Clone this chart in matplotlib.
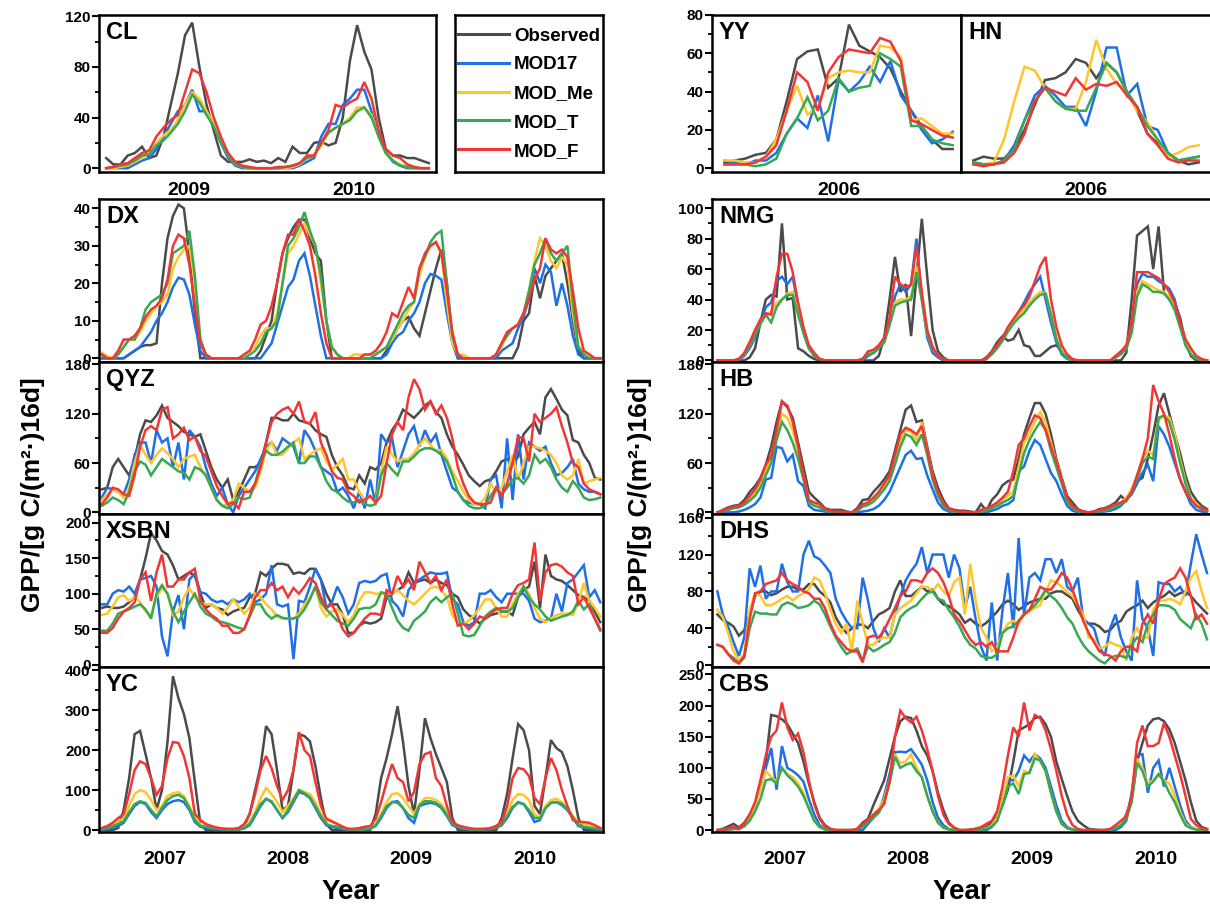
import numpy as np
import matplotlib.pyplot as plt
from matplotlib.lines import Line2D

plt.rcParams['font.family'] = ['Liberation Sans', 'DejaVu Sans']
plt.rcParams['font.weight'] = 'bold'

W, H = 1210, 909

names = ['Observed', 'MOD17', 'MOD_Me', 'MOD_T', 'MOD_F']
colors = ['#4b4b4b', '#1f6fe6', '#ffc629', '#37a853', '#f23636']

# ---------------- CL (2009-2010) ----------------
cl_obs = [8,3,3,10,12,17,8,10,25,50,75,105,115,80,50,30,10,5,5,5,7,5,6] + \
         [4,8,5,17,12,12,20,21,18,20,40,85,113,92,78,40,15,10,10,8,8,6,4]
cl_mod17 = [0,0,0,0,3,6,8,15,25,35,45,50,62,45,45,35,20,8,2,0,0,0,0] + \
           [0,0,0,0,2,5,8,25,35,35,50,55,62,62,45,25,12,5,2,0,0,0,0]
cl_me = [0,0,1,2,5,8,12,20,26,30,38,50,60,55,45,35,22,10,3,1,0,0,0] + \
        [0,0,0,1,3,8,10,18,28,32,35,40,48,48,42,25,12,6,3,1,0,0,0]
cl_t = [0,1,2,3,6,10,11,18,22,28,35,45,58,52,42,33,20,10,3,1,0,0,0] + \
       [0,0,1,2,4,8,10,20,28,32,35,38,45,48,40,25,12,6,2,1,0,0,0]
cl_f = [0,1,3,4,8,12,14,25,32,38,42,60,78,75,60,40,25,12,5,2,1,0,0] + \
       [0,1,1,2,4,10,10,20,30,50,48,52,55,68,55,30,15,10,8,3,1,0,0]

# ---------------- YY / HN (2006) ----------------
yy_obs = [3,4,5,7,8,15,35,57,61,62,42,47,75,64,61,58,52,40,30,22,15,10,10]
yy_mod17 = [4,3,2,4,4,8,18,26,21,38,14,46,40,45,53,45,56,38,30,20,13,15,19]
yy_me = [4,4,3,3,6,15,30,43,28,32,47,50,51,50,50,64,63,58,25,26,22,18,18]
yy_t = [2,2,2,1,2,5,18,26,37,25,30,47,40,42,43,60,57,53,22,22,15,13,12]
yy_f = [2,2,2,3,6,12,30,50,45,30,50,58,62,61,60,68,66,56,25,23,20,17,16]

hn_obs = [4,6,5,5,10,20,33,46,47,50,57,55,47,55,50,40,30,18,13,8,4,2,3]
hn_mod17 = [3,2,2,4,12,25,38,43,38,32,32,22,40,63,63,38,44,22,20,8,4,5,6]
hn_me = [2,2,3,15,35,53,51,42,35,31,31,45,67,52,44,40,30,24,15,6,8,11,12]
hn_t = [3,2,2,4,10,25,35,42,35,31,30,30,42,55,50,40,32,22,15,8,4,5,6]
hn_f = [2,1,2,3,8,18,35,42,40,38,47,41,44,43,45,38,32,18,12,5,3,4,4]

# ---------------- DX (2007-2010) ----------------
dx_obs = [0,0,0,0,0,1,2,3,3.5,3.5,4,20,32,38,41,40,28,12,0,0,0,0,0] + \
         [0,0,0,0,0,0,2,6,10,20,28,32,35,37,37,32,28,26,10,0,0,0,0] + \
         [0,0,0,0,0,0,2,5,8,10,11,8,6,12,18,24,29,20,5,0,0,0,0] + \
         [0,0,0,0,0,0,0,3,10,12,22,16,22,24,26,28,20,10,2,0,0,0,0]
dx_mod17 = [0,0,0,0,0,1,2,3,5,7,10,12,15,19,21.5,21,17,9,2,0,0,0,0] + \
           [0,0,0,0,0,0,0,2,4,9,14,19,21,26,28,22,14,6,0,0,0,0,0] + \
           [0,0,0,0,0,0,1,4,6,7,10,12,15,20,22.5,22,21,12,4,0,0,0,0] + \
           [0,0,0,0,2,3,4,8,11,16,24,20,25,23,14,20,14,6,1,0,0,0,0]
dx_me = [1.5,0.5,0,1,3,5,5,7,10,12,14,15,17,24,27,29,30,20,5,1,0,0,0] + \
        [0,0,0,1,2,3,6,8,8,12,20,28,30,33,36,33,30,20,10,3,1,0,0] + \
        [1,1,1,1,1,2,3,5,8,10,13,15,22,27,30,31,28,15,4,1,1,0,0] + \
        [0,0,0,1,3,6,8,9,12,18,26,32,30,26,24,27,25,12,3,2,1,0,0]
dx_t = [1,0,0,1,3,5,5,8,13,15,16,17,20,28,29,30,34,22,5,1,0,0,0] + \
       [0,0,0,0,1,2,4,7,8,10,20,30,32,35,39,34,30,22,10,3,1,0,0] + \
       [0,0,0,0,1,2,3,6,9,12,14,15,24,27,31,33,34,20,6,1,0,0,0] + \
       [0,0,0,1,4,6,8,9,12,18,25,28,32,28,26,28,30,15,3,1,0,0,0]
dx_f = [1,0,0,2,5,5,6,8,11,13,14,16,21,30,33,32,25,14,4,1,0,0,0] + \
       [0,0,0,1,2,5,9,10,14,20,28,33,33,37,34,30,22,12,4,0,0,0,0] + \
       [0,0,1,1,2,4,7,12,11,15,19,16,24,28,30,31,28,18,7,1,0,0,0] + \
       [0,0,0,1,4,7,8,9,12,16,21,24,32,29,28,29,27,18,8,2,1,0,0]

# ---------------- QYZ ----------------
qyz_obs = [28,30,55,65,55,45,65,95,112,110,118,130,115,110,105,98,95,92,95,75,55,40,30] + \
          [40,15,25,40,55,55,60,85,115,115,112,112,120,112,110,108,100,95,92,70,55,45,30] + \
          [28,45,35,55,52,60,85,100,110,125,120,115,122,130,135,122,115,95,80,70,58,45,38] + \
          [32,38,40,50,62,65,58,68,95,103,110,95,140,150,138,125,118,88,85,70,60,42,40]
qyz_mod17 = [18,30,28,25,22,40,70,85,85,60,100,85,90,55,85,40,100,92,80,55,35,20,30] + \
            [10,0,20,30,40,50,65,80,85,75,90,85,80,60,100,90,75,55,50,45,25,30,20] + \
            [5,25,5,40,10,95,85,90,55,75,95,105,80,100,85,95,70,50,30,25,15,12,10] + \
            [10,5,40,45,5,90,15,95,40,85,80,75,80,60,45,48,55,65,35,28,25,25,22]
qyz_me = [15,22,28,25,18,30,60,82,70,60,70,78,72,65,55,65,68,70,55,45,30,15,8] + \
         [10,15,35,30,25,30,50,75,85,70,70,78,85,90,65,70,75,78,62,52,58,65,40] + \
         [40,25,15,20,12,50,80,70,62,65,65,72,82,90,82,75,76,65,50,38,25,15,10] + \
         [10,18,35,25,30,50,70,40,60,80,80,78,75,70,60,45,40,45,65,35,38,40,42]
qyz_t = [8,12,18,15,10,25,50,62,58,45,55,65,60,55,50,48,40,55,52,45,30,15,8] + \
        [5,10,18,16,18,35,60,75,70,70,74,80,85,60,60,68,68,55,38,28,25,18,13] + \
        [12,15,10,8,10,45,60,52,45,62,62,68,75,78,78,75,70,62,45,25,15,8,5] + \
        [5,8,20,30,22,30,40,42,35,45,70,60,65,55,40,30,25,38,30,18,15,16,18]
qyz_f = [10,18,30,28,22,20,45,80,100,105,100,125,128,90,95,103,88,92,75,68,50,32,20] + \
        [10,12,5,25,25,35,55,85,110,120,125,128,120,135,110,108,122,85,70,50,42,40,25] + \
        [20,12,15,20,12,20,60,95,110,100,140,162,150,125,135,120,130,115,90,55,35,20,12] + \
        [10,10,12,30,20,35,60,92,90,62,120,110,115,120,128,105,85,60,55,35,28,25,22]

# ---------------- XSBN ----------------
xsbn_obs = [80,82,80,80,82,88,95,120,150,185,175,160,155,140,120,125,130,125,100,80,85,80,78] + \
           [70,75,78,80,95,100,130,125,135,142,142,140,128,130,128,135,135,120,100,85,85,70,45] + \
           [45,55,60,58,60,65,95,100,105,110,130,115,118,120,115,120,115,112,100,95,78,70,65] + \
           [58,65,70,72,75,75,70,95,105,110,145,80,155,125,120,118,112,105,98,95,90,75,60]
xsbn_mod17 = [85,85,100,105,103,110,100,120,122,125,110,40,12,75,98,50,120,128,102,100,92,88,90] + \
             [85,92,88,92,100,88,92,100,140,85,82,85,8,90,88,110,135,120,80,88,110,95,72] + \
             [85,115,118,116,118,125,128,90,82,68,105,115,120,125,130,128,128,130,92,85,60,55,60] + \
             [100,100,105,95,88,100,100,100,100,90,65,60,62,65,100,75,115,120,130,140,95,105,88]
xsbn_me = [70,72,82,95,98,90,95,88,75,70,95,108,100,70,75,95,108,95,88,85,85,80,72] + \
          [80,92,82,72,80,100,95,85,78,68,65,65,65,72,85,95,110,80,68,75,78,70,60] + \
          [70,90,102,102,100,100,100,100,105,98,90,85,92,100,108,110,105,95,70,58,58,62,70] + \
          [80,92,92,80,68,68,85,100,110,100,80,65,60,65,70,72,72,70,88,115,90,80,68]
xsbn_t = [48,48,58,72,75,78,82,85,78,65,100,112,100,75,60,75,88,100,82,72,68,62,60] + \
         [58,55,52,50,68,85,85,72,65,70,66,65,65,68,78,92,110,88,78,70,62,58,55] + \
         [65,78,80,80,85,102,100,80,62,52,48,62,68,75,88,95,88,95,100,72,42,40,42] + \
         [55,68,75,80,76,75,80,95,110,95,85,78,68,62,65,68,70,75,90,78,85,65,48]
xsbn_f = [45,45,52,65,75,80,88,120,130,90,130,155,110,110,120,120,130,135,90,78,70,65,55] + \
         [55,45,45,50,70,95,105,105,115,105,110,95,108,100,110,122,115,95,80,85,70,50,40] + \
         [45,55,65,72,72,70,105,100,125,110,120,105,145,130,115,125,105,120,85,55,58,50,58] + \
         [68,65,72,78,80,80,100,112,115,120,172,90,130,140,142,138,130,125,85,95,80,65,50]

# ---------------- YC ----------------
yc_obs = [0,0,0,5,50,130,240,248,190,130,50,100,220,385,330,290,230,120,15,0,0,0,0] + \
         [0,0,0,10,40,100,160,260,240,150,50,60,150,240,235,222,160,80,15,0,0,0,0] + \
         [0,0,0,0,40,130,180,240,310,220,110,40,150,280,230,190,155,120,30,0,0,0,0] + \
         [0,0,0,0,30,90,180,265,250,200,60,40,130,225,205,195,160,100,30,0,0,0,0]
yc_mod17 = [0,2,5,10,18,40,60,70,65,45,30,50,65,72,75,70,50,20,8,5,3,2,1] + \
           [0,0,1,4,12,35,60,78,70,50,30,45,70,95,90,80,55,30,12,8,5,2,0] + \
           [0,0,1,3,10,30,55,70,72,55,30,18,60,65,68,65,55,35,12,6,3,1,0] + \
           [0,1,2,5,12,30,55,70,65,45,20,25,55,68,70,62,50,30,10,6,4,2,1]
yc_me = [3,8,15,20,30,60,90,100,95,75,50,60,85,92,95,85,60,30,15,10,8,5,3] + \
        [2,2,3,8,20,45,80,105,90,70,45,60,80,100,95,90,70,40,25,20,15,8,3] + \
        [2,2,3,5,15,40,70,90,92,80,60,40,65,80,80,75,65,45,20,10,5,3,2] + \
        [2,3,5,10,20,40,75,90,88,75,40,30,60,75,78,70,55,35,20,15,12,8,5]
yc_t = [2,5,10,15,22,45,65,72,68,50,35,55,75,85,88,80,55,25,10,8,5,3,2] + \
       [1,1,2,6,15,40,65,78,72,50,30,50,75,100,92,82,60,35,15,10,8,4,1] + \
       [1,1,2,4,12,35,60,70,68,55,38,30,62,72,72,68,58,38,15,8,4,2,1] + \
       [1,2,3,6,14,35,58,68,65,50,30,30,55,68,70,65,52,32,12,8,6,4,2]
yc_f = [5,10,18,30,40,90,150,172,165,130,88,110,180,220,218,185,130,40,25,15,10,6,4] + \
       [3,3,5,15,40,90,150,185,155,110,75,100,150,245,200,185,120,60,28,22,15,8,3] + \
       [3,5,8,10,28,70,120,165,130,120,72,95,165,190,195,130,110,60,20,12,8,5,3] + \
       [3,3,5,10,20,60,130,155,152,135,80,65,130,180,150,100,60,25,20,20,18,12,5]

# ---------------- NMG ----------------
nmg_obs = [0,0,0,0,0,0,2,8,25,40,43,42,90,40,41,8,6,3,1,0,0,0,0] + \
          [0,0,0,0,0,0,0,3,15,40,68,45,50,16,55,93,55,20,6,2,0,0,0] + \
          [0,0,0,0,2,6,12,16,13,14,20,10,9,3,3,6,9,10,6,2,0,0,0] + \
          [0,0,0,0,0,0,0,5,40,82,85,88,60,88,45,40,38,28,12,3,0,0,0]
nmg_mod17 = [0,0,0,0,0,3,8,15,25,35,38,52,55,50,55,35,18,8,3,1,0,0,0] + \
            [0,0,0,0,0,3,5,8,12,25,42,50,45,50,80,40,15,5,2,0,0,0,0] + \
            [0,0,0,0,1,5,9,14,20,26,32,38,45,50,55,40,25,12,4,1,0,0,0] + \
            [0,0,0,0,0,2,5,8,20,50,57,55,55,52,50,47,40,25,12,5,2,0,0]
nmg_me = [0,0,0,0,1,4,10,17,25,30,32,38,40,44,45,32,18,8,3,1,0,0,0] + \
         [0,0,0,0,1,5,6,9,13,25,38,40,40,42,62,40,18,8,3,1,0,0,0] + \
         [0,0,0,0,1,5,9,14,20,25,30,33,38,42,45,44,30,15,6,2,0,0,0] + \
         [0,0,0,0,0,2,5,8,20,45,52,50,48,46,45,42,35,22,12,5,2,0,0]
nmg_t = [0,0,0,0,1,4,10,17,24,30,25,35,40,43,43,30,18,8,3,1,0,0,0] + \
        [0,0,0,0,1,4,5,8,12,23,36,38,39,40,58,40,18,8,3,1,0,0,0] + \
        [0,0,0,0,1,4,8,13,19,24,28,31,36,40,43,44,30,14,5,2,0,0,0] + \
        [0,0,0,0,0,2,4,8,18,42,50,48,45,45,44,40,33,22,10,4,1,0,0]
nmg_f = [0,0,0,0,1,5,12,20,27,31,30,55,70,70,58,38,22,10,5,1,0,0,0] + \
        [0,0,0,0,1,6,7,10,15,28,55,50,48,50,75,45,20,9,3,1,0,0,0] + \
        [0,0,0,0,1,6,10,15,22,27,32,36,42,52,62,68,40,22,10,4,1,0,0] + \
        [0,0,0,0,0,3,6,10,25,58,58,58,56,54,50,45,38,25,14,8,3,1,0]

# ---------------- HB ----------------
hb_obs = [0,3,6,8,9,15,25,32,42,58,80,110,135,128,115,85,55,25,18,12,5,3,3] + \
         [3,1,0,5,15,16,25,32,40,50,75,100,125,130,110,112,80,50,30,15,5,3,2] + \
         [2,1,0,10,2,15,22,33,38,40,65,95,115,133,133,120,95,65,42,20,12,4,1] + \
         [0,1,4,5,8,12,20,14,28,38,42,65,95,130,145,120,95,72,45,25,15,8,4]
hb_mod17 = [0,0,0,0,1,3,6,10,18,40,42,80,78,62,70,38,32,8,3,2,1,0,0] + \
           [0,0,0,0,1,2,4,8,15,25,40,55,70,75,65,66,45,28,12,4,1,0,0] + \
           [0,0,0,0,0,2,4,8,10,15,50,56,75,88,82,65,48,38,22,8,2,0,0] + \
           [0,0,0,1,2,4,8,15,22,35,48,58,38,105,95,80,60,40,25,10,3,1,0]
hb_me = [0,2,4,6,7,10,16,24,35,50,70,95,120,115,100,75,45,15,10,8,3,1,0] + \
        [0,0,0,2,8,10,15,22,30,40,62,88,100,98,88,110,75,45,22,10,3,1,0] + \
        [0,0,0,1,3,6,10,15,20,25,55,85,95,110,122,110,85,62,40,15,6,2,0] + \
        [0,0,2,3,5,8,12,18,28,45,65,75,70,112,118,115,95,65,38,18,10,5,2]
hb_t = [0,1,3,5,6,9,14,20,30,45,60,88,110,100,85,65,40,12,8,6,2,1,0] + \
       [0,0,0,2,7,9,13,20,28,38,58,80,95,92,82,95,70,40,20,8,2,1,0] + \
       [0,0,0,1,2,5,8,12,15,20,45,72,88,100,110,100,75,55,35,12,5,1,0] + \
       [0,0,1,2,4,7,10,15,25,40,60,68,65,115,118,110,88,60,35,16,8,4,1]
hb_f = [0,2,5,7,8,12,20,28,40,58,68,100,135,130,110,80,45,15,12,10,4,2,1] + \
       [1,0,0,3,10,12,18,25,35,45,70,95,103,100,95,105,75,45,25,12,4,2,1] + \
       [1,0,0,3,5,8,12,18,25,50,82,90,105,118,115,100,80,62,40,18,8,3,1] + \
       [0,1,3,4,7,10,12,15,25,45,65,90,155,135,120,95,65,40,25,15,8,5,2]

# ---------------- DHS ----------------
dhs_obs = [55,49,46,42,32,38,55,75,80,80,76,78,82,85,85,82,82,88,88,80,75,68,52] + \
          [42,35,40,44,44,40,48,55,58,62,80,92,75,75,80,85,80,82,72,66,64,60,55] + \
          [46,50,45,42,46,52,58,66,70,66,60,64,68,70,72,72,78,80,80,76,72,60,50] + \
          [45,45,42,36,38,45,48,58,62,65,70,62,68,72,75,80,75,78,80,75,68,62,56]
dhs_mod17 = [80,55,42,25,10,30,105,85,108,72,80,80,110,90,80,80,120,135,118,115,108,100,72] + \
            [58,48,40,40,95,70,40,25,40,30,55,75,92,102,110,128,100,120,120,120,95,120,105] + \
            [62,85,50,20,5,68,5,60,100,40,138,55,95,100,92,115,115,100,115,85,80,95,50] + \
            [45,40,20,10,40,55,30,15,5,92,50,40,10,90,88,88,80,85,75,110,142,120,100]
dhs_me = [60,52,35,15,5,12,60,78,75,65,65,68,72,75,70,75,78,82,95,92,78,60,45] + \
         [35,45,15,70,45,22,22,28,30,30,55,62,66,70,78,85,85,80,88,80,75,90,95] + \
         [55,110,70,40,30,15,20,35,45,48,45,55,58,62,65,80,92,90,85,80,75,65,55] + \
         [30,28,18,20,25,22,20,5,30,40,30,30,60,70,70,72,70,66,80,95,102,80,62]
dhs_t = [22,20,12,8,2,8,40,58,56,56,55,55,65,68,66,62,63,65,70,66,55,42,30] + \
        [20,12,15,18,5,20,15,18,22,25,35,52,58,62,65,72,78,80,72,70,60,52,42] + \
        [30,22,18,10,8,8,12,35,40,42,48,55,60,65,72,82,75,70,62,52,45,32,22] + \
        [15,10,5,2,8,10,10,8,22,30,25,45,55,65,65,64,60,50,45,40,55,45,28]
dhs_f = [22,20,12,5,2,10,50,78,80,88,90,92,100,92,88,85,80,78,72,72,62,45,32] + \
        [25,18,15,15,3,30,32,30,38,50,62,75,80,92,92,90,100,105,100,90,75,55,48] + \
        [38,28,22,25,20,25,15,15,15,30,48,55,60,72,85,82,82,90,100,95,82,65,48] + \
        [35,25,15,12,10,5,15,20,20,15,45,55,45,70,88,92,95,105,95,75,50,55,45]

# ---------------- CBS ----------------
cbs_obs = [0,2,6,10,4,12,25,40,75,110,185,183,178,170,155,140,110,75,45,20,8,2,0] + \
          [0,0,0,2,12,18,40,60,80,115,150,175,182,180,160,135,120,95,60,32,12,4,0] + \
          [0,1,2,3,5,12,25,40,65,110,160,165,170,180,182,170,150,110,82,55,30,15,8] + \
          [2,1,0,0,0,1,8,25,50,110,140,168,178,180,175,162,140,110,80,45,15,5,2]
cbs_mod17 = [0,0,0,2,2,8,20,40,70,100,132,65,135,100,95,88,78,50,25,8,2,0,0] + \
            [0,0,0,0,0,10,20,30,55,90,125,126,125,130,118,105,80,45,20,8,2,0,0] + \
            [0,0,0,0,0,5,15,50,80,80,95,120,110,122,115,100,70,40,15,5,1,0,0] + \
            [0,0,0,0,0,0,5,15,60,120,122,60,100,112,70,100,70,40,15,5,1,0,0]
cbs_me = [0,0,1,3,2,8,20,40,65,95,85,78,100,90,85,75,60,35,15,5,1,0,0] + \
         [0,0,0,1,8,15,25,35,50,80,122,108,110,122,100,85,55,30,12,4,1,0,0] + \
         [0,0,0,1,3,8,20,50,85,88,70,95,92,122,110,95,60,30,10,3,1,0,0] + \
         [0,0,0,0,1,4,10,20,50,115,100,75,80,90,80,75,55,30,10,4,1,0,0]
cbs_t = [0,0,1,2,2,6,15,30,50,80,82,75,100,88,80,70,55,35,15,5,1,0,0] + \
        [0,0,0,1,6,12,20,28,45,75,118,100,105,108,95,85,55,30,12,4,1,0,0] + \
        [0,0,0,1,2,6,15,40,70,75,58,90,92,115,112,95,60,30,10,3,1,0,0] + \
        [0,0,0,0,1,3,8,18,45,108,95,70,78,90,78,60,45,25,8,3,1,0,0]
cbs_f = [0,0,3,5,2,10,25,45,80,120,150,160,205,165,145,155,125,80,42,18,6,2,0] + \
        [0,0,0,2,10,15,25,32,42,80,150,192,180,173,182,160,130,95,55,25,10,4,0] + \
        [0,0,2,5,10,15,30,70,120,165,150,205,160,185,180,160,130,95,55,25,8,2,0] + \
        [0,0,0,0,2,8,15,22,55,140,168,135,135,140,172,150,120,90,55,18,8,3,1]

years4 = ['2007', '2008', '2009', '2010']


def add_box(l, t, r, b):
    return fig.add_axes([l / W, 1 - b / H, (r - l) / W, (b - t) / H])


def panel(ax, series, label, ylim, major, minor, xlim, ylabels=True):
    for y, c in zip(series, colors):
        ax.plot(np.arange(len(y)), y, color=c, lw=1.8, solid_joinstyle='miter')
    ax.set_xlim(*xlim)
    ax.set_ylim(*ylim)
    if ylabels:
        ax.set_yticks(major)
        ax.set_yticks(minor, minor=True)
        ax.tick_params(axis='y', which='major', direction='out', length=5,
                       width=1.5, labelsize=11, pad=1)
        ax.tick_params(axis='y', which='minor', direction='out', length=3, width=1.3)
    else:
        ax.set_yticks([])
    ax.set_xticks([])
    for s in ax.spines.values():
        s.set_linewidth(1.8)
    ax.annotate(label, xy=(0, 1), xycoords='axes fraction', xytext=(5, -4),
                textcoords='offset points', ha='left', va='top',
                fontsize=17, fontweight='bold')


def year_ticks(ax, labels, pos, pad=9):
    ax.set_xticks(pos)
    ax.set_xticklabels(labels, fontsize=14, fontweight='bold')
    ax.tick_params(axis='x', length=0, pad=pad)


fig = plt.figure(figsize=(W / 100, H / 100), dpi=100)

# left column
lx0, lx1 = 99, 603
ax = add_box(lx0, 15, 436, 172)
panel(ax, [cl_obs, cl_mod17, cl_me, cl_t, cl_f], 'CL', (-3, 121),
      [0, 40, 80, 120], [20, 60, 100], (-1, 46))
year_ticks(ax, ['2009', '2010'], [11.5, 34.5], pad=7)

leg = add_box(455, 15, 603, 172)
leg.set_xticks([])
leg.set_yticks([])
for s in leg.spines.values():
    s.set_linewidth(1.8)
handles = [Line2D([], [], color=c, lw=2.2) for c in colors]
leg.legend(handles, names, loc='center', frameon=False, handlelength=2.7,
           labelspacing=0.62, handletextpad=0.3, borderaxespad=0.0,
           prop={'weight': 'bold', 'size': 13.5})

xl4 = (-0.5, 91.5)
left_rows = [
    ([dx_obs, dx_mod17, dx_me, dx_t, dx_f], 'DX', (-1, 42.5), [0, 10, 20, 30, 40], [5, 15, 25, 35]),
    ([qyz_obs, qyz_mod17, qyz_me, qyz_t, qyz_f], 'QYZ', (-2, 183), [0, 60, 120, 180], [30, 90, 150]),
    ([xsbn_obs, xsbn_mod17, xsbn_me, xsbn_t, xsbn_f], 'XSBN', (-3, 212), [0, 50, 100, 150, 200], [25, 75, 125, 175]),
    ([yc_obs, yc_mod17, yc_me, yc_t, yc_f], 'YC', (-5, 408), [0, 100, 200, 300, 400], [50, 150, 250, 350]),
]
edges = [199, 362, 514, 667, 832]
for i, (ser, lab, yl, mj, mn) in enumerate(left_rows):
    ax = add_box(lx0, edges[i], lx1, edges[i + 1])
    panel(ax, ser, lab, yl, mj, mn, xl4)
    if i == len(left_rows) - 1:
        year_ticks(ax, years4, [11.5, 34, 56.5, 79], pad=14)

# right column
rx0, rx1 = 712, 1214
ax = add_box(rx0, 15, 961, 172)
panel(ax, [yy_obs, yy_mod17, yy_me, yy_t, yy_f], 'YY', (-2, 80),
      [0, 20, 40, 60, 80], [10, 30, 50, 70], (-1.2, 22.8))
year_ticks(ax, ['2006'], [11], pad=7)
ax = add_box(961, 15, 1214, 172)
panel(ax, [hn_obs, hn_mod17, hn_me, hn_t, hn_f], 'HN', (-2, 80),
      [], [], (-1.2, 23.5), ylabels=False)
year_ticks(ax, ['2006'], [11], pad=7)

xr4 = (-1, 92.3)
right_rows = [
    ([nmg_obs, nmg_mod17, nmg_me, nmg_t, nmg_f], 'NMG', (-1, 106), [0, 20, 40, 60, 80, 100], [10, 30, 50, 70, 90]),
    ([hb_obs, hb_mod17, hb_me, hb_t, hb_f], 'HB', (-2, 183), [0, 60, 120, 180], [30, 90, 150]),
    ([dhs_obs, dhs_mod17, dhs_me, dhs_t, dhs_f], 'DHS', (-2, 164), [0, 40, 80, 120, 160], [20, 60, 100, 140]),
    ([cbs_obs, cbs_mod17, cbs_me, cbs_t, cbs_f], 'CBS', (-3, 262), [0, 50, 100, 150, 200, 250], [25, 75, 125, 175, 225]),
]
for i, (ser, lab, yl, mj, mn) in enumerate(right_rows):
    ax = add_box(rx0, edges[i], rx1, edges[i + 1])
    panel(ax, ser, lab, yl, mj, mn, xr4)
    if i == len(right_rows) - 1:
        year_ticks(ax, years4, [12.5, 35.5, 58.5, 81.5], pad=14)

ylab = 'GPP/[g C/(m²·)16d]'
fig.text(33 / W, 1 - 495 / H, ylab, rotation=90, ha='center', va='center',
         fontsize=19, fontweight='bold')
fig.text(640 / W, 1 - 495 / H, ylab, rotation=90, ha='center', va='center',
         fontsize=19, fontweight='bold')
fig.text(351 / W, 1 - 892 / H, 'Year', ha='center', va='center',
         fontsize=20, fontweight='bold')
fig.text(962 / W, 1 - 892 / H, 'Year', ha='center', va='center',
         fontsize=20, fontweight='bold')

fig.savefig('out.png', dpi=100)
